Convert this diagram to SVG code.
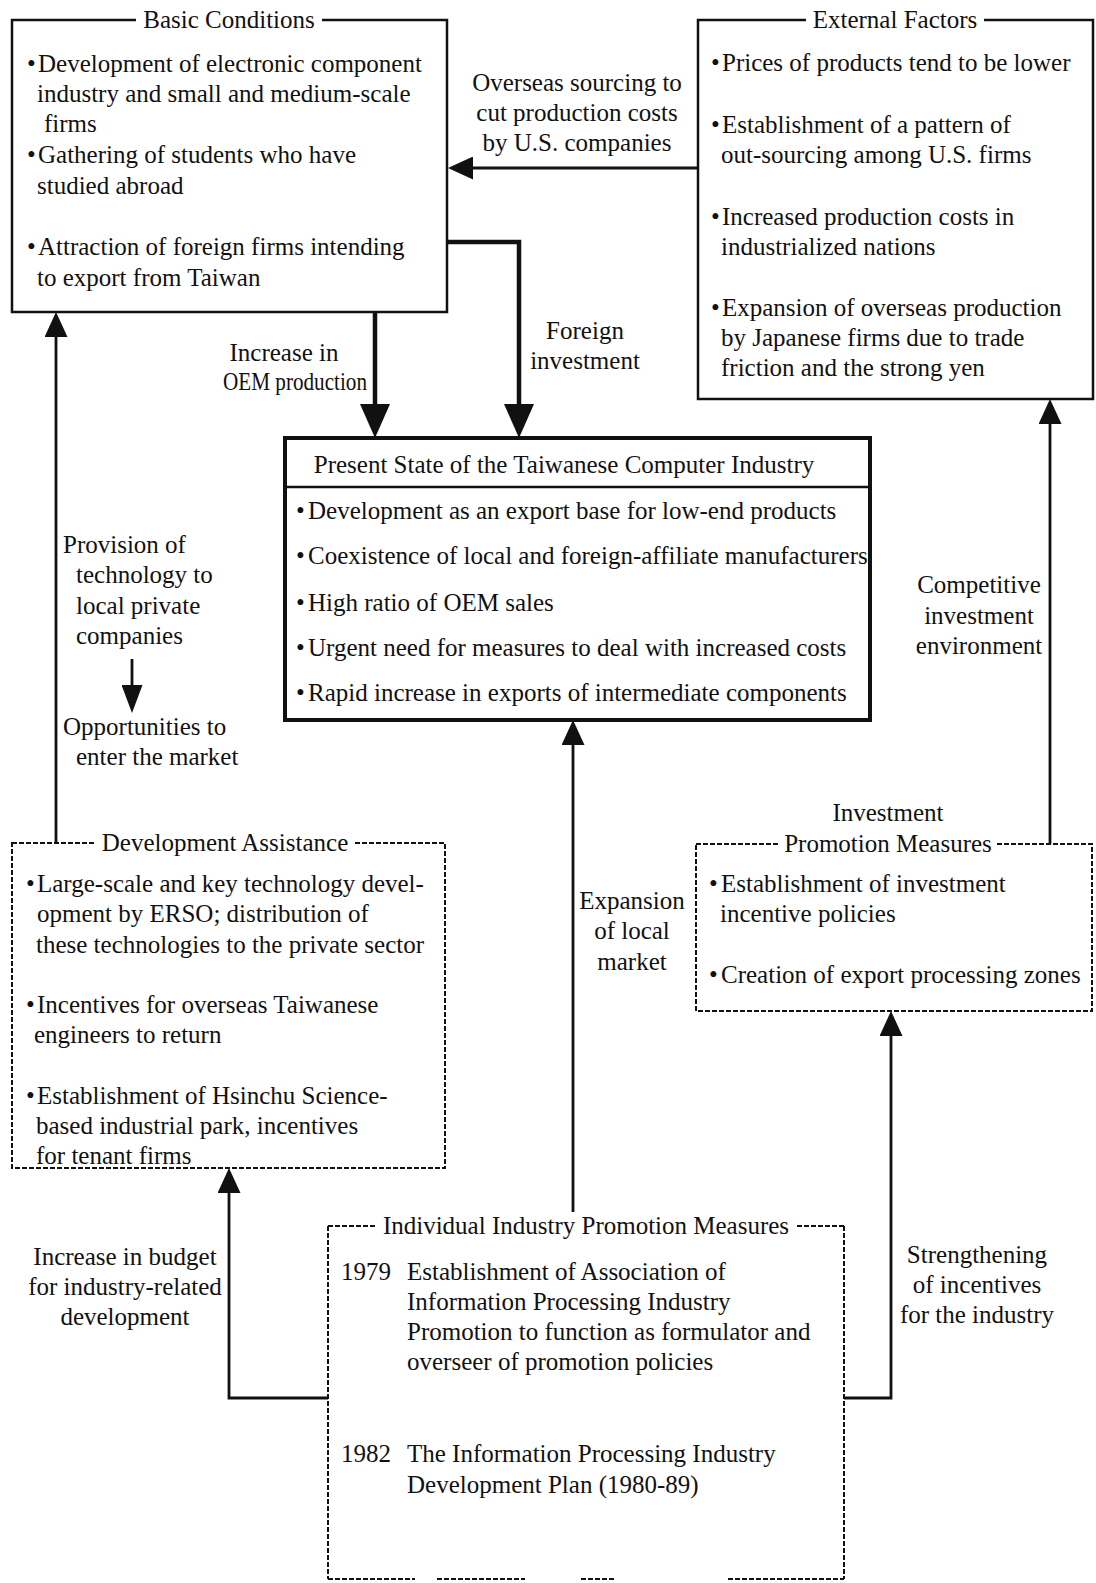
<svg xmlns="http://www.w3.org/2000/svg" width="1096" height="1583" viewBox="0 0 1096 1583">
<style>
text{font-family:"Liberation Serif","Times New Roman",serif;font-size:25px;fill:#111}
.m{text-anchor:middle}
.b{font-size:25px}
.box{fill:none;stroke:#111;stroke-width:2.5}
.thick{fill:none;stroke:#111;stroke-width:4}
.dash{fill:none;stroke:#111;stroke-width:2;stroke-dasharray:5 2}
.bg{fill:#fff;stroke:none}
.c{fill:none;stroke:#111;stroke-width:2.8}
.cb{fill:none;stroke:#111;stroke-width:4.5}
</style>
<defs>
<marker id="ah" markerUnits="userSpaceOnUse" viewBox="0 -11.5 25 23" refX="0" refY="0" markerWidth="25" markerHeight="23" orient="auto"><path d="M0,-11.5 L25,0 L0,11.5 z" fill="#111"/></marker>
<marker id="ahb" markerUnits="userSpaceOnUse" viewBox="0 -15 34 30" refX="0" refY="0" markerWidth="34" markerHeight="30" orient="auto"><path d="M0,-15 L34,0 L0,15 z" fill="#111"/></marker>
<marker id="ahs" markerUnits="userSpaceOnUse" viewBox="0 -10.5 28 21" refX="0" refY="0" markerWidth="28" markerHeight="21" orient="auto"><path d="M0,-10.5 L28,0 L0,10.5 z" fill="#111"/></marker>
</defs>
<rect width="1096" height="1583" fill="#fff"/>

<g id="connectors">
<path class="c" d="M698,168 H473" marker-end="url(#ah)"/>
<path class="cb" d="M447,242 H519 V404" marker-end="url(#ahb)"/>
<path class="cb" d="M375,312 V404" marker-end="url(#ahb)"/>
<path class="c" d="M56,843 V337" marker-end="url(#ah)"/>
<path class="c" d="M132,659 V685" marker-end="url(#ahs)"/>
<path class="c" d="M1050,844 V424" marker-end="url(#ah)"/>
<path class="c" d="M573,1226 V745" marker-end="url(#ah)"/>
<path class="c" d="M328,1398 H229 V1193" marker-end="url(#ah)"/>
<path class="c" d="M844,1398 H891 V1036" marker-end="url(#ah)"/>
<text class="m" x="577" y="91">Overseas sourcing to</text>
<text class="m" x="577" y="121">cut production costs</text>
<text class="m" x="577" y="151">by U.S. companies</text>
<text class="m" x="585" y="339">Foreign</text>
<text class="m" x="585" y="369">investment</text>
<text class="m" x="284" y="361">Increase in</text>
<text x="223" y="390" textLength="144" lengthAdjust="spacingAndGlyphs">OEM production</text>
<text x="63" y="553">Provision of</text>
<text x="76" y="583">technology to</text>
<text x="76" y="614">local private</text>
<text x="76" y="644">companies</text>
<text x="63" y="735">Opportunities to</text>
<text x="76" y="765">enter the market</text>
<text class="m" x="979" y="593">Competitive</text>
<text class="m" x="979" y="624">investment</text>
<text class="m" x="979" y="654">environment</text>
<text class="m" x="632" y="909">Expansion</text>
<text class="m" x="632" y="939">of local</text>
<text class="m" x="632" y="970">market</text>
<text class="m" x="125" y="1265">Increase in budget</text>
<text class="m" x="125" y="1295">for industry-related</text>
<text class="m" x="125" y="1325">development</text>
<text class="m" x="977" y="1263">Strengthening</text>
<text class="m" x="977" y="1293">of incentives</text>
<text class="m" x="977" y="1323">for the industry</text>
</g>

<g id="basic-conditions">
<rect class="box" x="12" y="20" width="435" height="292"/>
<rect class="bg" x="136" y="6" width="186" height="28"/>
<text class="m" x="229" y="28">Basic Conditions</text>
<text class="b" x="27" y="72">•</text><text x="38" y="72">Development of electronic component</text>
<text x="37" y="102">industry and small and medium-scale</text>
<text x="44" y="132">firms</text>
<text class="b" x="27" y="163">•</text><text x="38" y="163">Gathering of students who have</text>
<text x="37" y="194">studied abroad</text>
<text class="b" x="27" y="255">•</text><text x="38" y="255">Attraction of foreign firms intending</text>
<text x="37" y="286">to export from Taiwan</text>
</g>

<g id="external-factors">
<rect class="box" x="698" y="20" width="395" height="379"/>
<rect class="bg" x="806" y="6" width="178" height="28"/>
<text class="m" x="895" y="28">External Factors</text>
<text class="b" x="711" y="71">•</text><text x="722" y="71">Prices of products tend to be lower</text>
<text class="b" x="711" y="133">•</text><text x="722" y="133">Establishment of a pattern of</text>
<text x="721" y="163">out-sourcing among U.S. firms</text>
<text class="b" x="711" y="225">•</text><text x="722" y="225">Increased production costs in</text>
<text x="721" y="255">industrialized nations</text>
<text class="b" x="711" y="316">•</text><text x="722" y="316">Expansion of overseas production</text>
<text x="721" y="346">by Japanese firms due to trade</text>
<text x="721" y="376">friction and the strong yen</text>
</g>

<g id="present-state">
<rect class="thick" x="285" y="438" width="585" height="282"/>
<line x1="285" y1="487" x2="870" y2="487" stroke="#111" stroke-width="2.5"/>
<text class="m" x="564" y="473">Present State of the Taiwanese Computer Industry</text>
<text class="b" x="296" y="519">•</text><text x="308" y="519">Development as an export base for low-end products</text>
<text class="b" x="296" y="564">•</text><text x="308" y="564">Coexistence of local and foreign-affiliate manufacturers</text>
<text class="b" x="296" y="611">•</text><text x="308" y="611">High ratio of OEM sales</text>
<text class="b" x="296" y="656">•</text><text x="308" y="656">Urgent need for measures to deal with increased costs</text>
<text class="b" x="296" y="701">•</text><text x="308" y="701">Rapid increase in exports of intermediate components</text>
</g>

<g id="development-assistance">
<rect class="dash" x="12" y="843" width="433" height="325"/>
<rect class="bg" x="96" y="829" width="258" height="26"/>
<text class="m" x="225" y="851">Development Assistance</text>
<text class="b" x="26" y="892">•</text><text x="37" y="892">Large-scale and key technology devel-</text>
<text x="37" y="922">opment by ERSO; distribution of</text>
<text x="36" y="953">these technologies to the private sector</text>
<text class="b" x="26" y="1013">•</text><text x="37" y="1013">Incentives for overseas Taiwanese</text>
<text x="34" y="1043">engineers to return</text>
<text class="b" x="26" y="1104">•</text><text x="37" y="1104">Establishment of Hsinchu Science-</text>
<text x="36" y="1134">based industrial park, incentives</text>
<text x="36" y="1164">for tenant firms</text>
</g>

<g id="investment-promotion">
<rect class="dash" x="696" y="844" width="396" height="167"/>
<rect class="bg" x="779" y="830" width="218" height="26"/>
<text class="m" x="888" y="821">Investment</text>
<text class="m" x="888" y="852">Promotion Measures</text>
<text class="b" x="709" y="892">•</text><text x="721" y="892">Establishment of investment</text>
<text x="720" y="922">incentive policies</text>
<text class="b" x="709" y="983">•</text><text x="721" y="983">Creation of export processing zones</text>
</g>

<g id="individual-industry">
<path class="dash" d="M328,1226 V1579 M844,1226 V1579 M328,1226 H844"/>
<path class="dash" d="M328,1579 H415 M437,1579 H525 M581,1579 H616 M728,1579 H844"/>
<rect class="bg" x="377" y="1212" width="418" height="26"/>
<text class="m" x="586" y="1234">Individual Industry Promotion Measures</text>
<text x="341" y="1280">1979</text>
<text x="407" y="1280">Establishment of Association of</text>
<text x="407" y="1310">Information Processing Industry</text>
<text x="407" y="1340">Promotion to function as formulator and</text>
<text x="407" y="1370">overseer of promotion policies</text>
<text x="341" y="1462">1982</text>
<text x="407" y="1462">The Information Processing Industry</text>
<text x="407" y="1493">Development Plan (1980-89)</text>
</g>
</svg>
